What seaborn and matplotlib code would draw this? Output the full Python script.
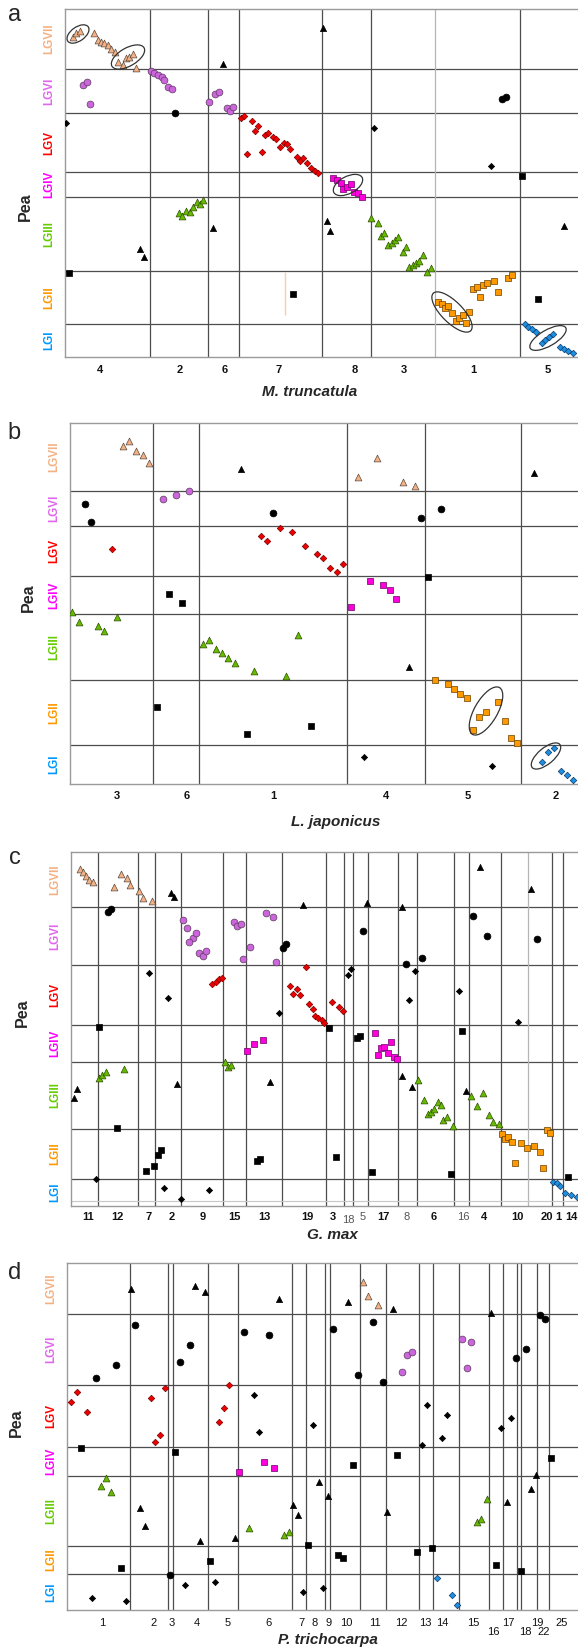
import numpy as np
import pandas as pd
import seaborn as sns
import matplotlib.pyplot as plt
from matplotlib.patches import Ellipse
import matplotlib.transforms as mtrans

sns.set_style('white')
plt.rcParams['font.family'] = ['Liberation Sans', 'DejaVu Sans']

W, H = 578, 1648

# pea linkage groups, top to bottom
lg_names = ['LGVII', 'LGVI', 'LGV', 'LGIV', 'LGIII', 'LGII', 'LGI']
lg_colors = ['#F4B183', '#E066EE', '#FF0000', '#FF00FF', '#66CC00', '#FF9900', '#0099FF']

# ---------------- panel a : M. truncatula ----------------
a_hlines = [69, 113, 172, 197, 271, 324]
a_vlines = [150, 208, 239, 322, 371, 520]
a_vlines_light = [435]
a_ticks = [100, 180, 225, 279, 355, 404, 473, 548]
a_labels = ['4', '2', '6', '7', '8', '3', '1', '5']
a_lg7 = [(73, 37), (76, 33), (80, 31), (94, 33), (98, 40), (101, 42), (104, 43), (108, 45), (111, 49),
         (115, 52), (118, 62), (123, 65), (126, 58), (129, 57), (133, 54), (136, 68)]
a_lg6 = [(83, 85), (87, 82), (90, 104), (151, 71), (154, 73), (158, 75), (162, 77), (164, 80), (168, 87),
         (172, 89), (209, 102), (215, 94), (219, 92), (227, 108), (230, 111), (233, 107)]
a_lg5 = [(241, 118), (244, 116), (252, 121), (255, 131), (258, 126), (265, 135), (268, 133), (273, 137),
         (276, 139), (280, 147), (284, 143), (287, 144), (290, 149), (297, 157), (247, 154), (262, 152),
         (300, 161), (303, 158), (307, 163), (311, 168), (315, 171), (318, 173)]
a_lg4 = [(333, 178), (337, 180), (341, 183), (343, 189), (347, 187), (351, 184), (354, 192), (358, 193), (362, 197)]
a_lg3 = [(179, 213), (182, 216), (186, 211), (190, 212), (193, 207), (197, 202), (200, 204), (203, 200),
         (371, 218), (378, 223), (381, 236), (384, 233), (388, 245), (392, 243), (395, 240), (398, 237),
         (403, 252), (406, 247), (409, 267), (413, 265), (416, 263), (419, 261), (423, 255), (427, 272), (431, 268)]
a_lg2 = [(438, 302), (442, 304), (445, 308), (448, 306), (452, 313), (456, 321), (459, 318), (463, 315),
         (466, 323), (469, 312), (473, 289), (477, 287), (480, 297), (483, 285), (487, 283), (494, 281),
         (498, 292), (508, 278), (512, 275)]
a_lg1 = [(525, 324), (528, 327), (532, 329), (536, 332), (542, 343), (545, 340), (549, 337), (553, 334),
         (560, 347), (564, 349), (568, 351), (573, 353)]
a_tri = [(223, 64), (140, 249), (144, 257), (213, 228), (323, 28), (327, 221), (330, 231), (564, 226)]
a_circ = [(175, 113), (502, 99), (506, 97)]
a_dia = [(66, 123), (374, 128), (491, 166)]
a_sq = [(69, 273), (293, 294), (522, 176), (538, 299)]
# rings: centre x, centre y, long axis, short axis, visible tilt
a_rings = [(78, 34, 25, 14, 35), (128, 57, 37, 18, 30), (348, 185, 32, 17, 28),
           (452, 312, 53, 21, -45), (548, 338, 41, 16, 30)]

# ---------------- panel b : L. japonicus ----------------
b_hlines = [491, 526, 576, 614, 680, 745]
b_vlines = [153, 199, 347, 425, 521]
b_ticks = [117, 187, 273, 386, 468, 556]
b_labels = ['3', '6', '1', '4', '5', '2']
b_lg7 = [(123, 446), (129, 441), (136, 451), (143, 455), (149, 463), (358, 477), (377, 458), (403, 482), (415, 486)]
b_lg6 = [(163, 499), (176, 495), (189, 491)]
b_lg5 = [(112, 549), (261, 536), (267, 541), (280, 528), (292, 532), (305, 546), (317, 554), (323, 558),
         (330, 568), (337, 572), (343, 564)]
b_lg4 = [(351, 607), (370, 581), (383, 585), (390, 590), (396, 599)]
b_lg3 = [(72, 612), (79, 622), (98, 626), (104, 631), (117, 617), (203, 644), (209, 640), (216, 649),
         (222, 653), (228, 658), (235, 663), (254, 671), (286, 676), (298, 635)]
b_lg2 = [(435, 680), (448, 684), (454, 689), (460, 694), (467, 698), (473, 730), (479, 717), (486, 712),
         (498, 702), (505, 721), (511, 738), (517, 743)]
b_lg1 = [(542, 762), (548, 752), (554, 748), (561, 771), (567, 775), (573, 780)]
b_tri = [(241, 469), (534, 473), (409, 667)]
b_circ = [(85, 504), (91, 522), (273, 513), (421, 518), (441, 509)]
b_dia = [(364, 757), (492, 766)]
b_sq = [(169, 594), (182, 603), (428, 577), (157, 707), (247, 734), (311, 726)]
b_rings = [(486, 711, 54, 23, 60), (546, 756, 36, 16, 40)]

# ---------------- panel c : G. max ----------------
c_hlines = [907, 965, 1025, 1062, 1129, 1179]
c_vlines = [98, 138, 155, 181, 223, 246, 282, 326, 344, 353, 368, 398, 417, 454, 469, 501, 552, 563]
c_vlines_light = [528]
c_ticks = [88, 117, 149, 172, 203, 234, 264, 307, 333, 348, 363, 383, 407, 434, 463, 484, 517, 547, 558, 571]
c_labels = ['11', '12', '7', '2', '9', '15', '13', '19', '3', '18', '5', '17', '8', '6', '16', '4', '10', '20', '1', '14']
c_thin = ['18', '5', '8', '16']
c_lg7 = [(80, 869), (83, 872), (86, 876), (89, 880), (93, 882), (114, 887), (121, 874), (127, 878),
         (130, 885), (139, 891), (143, 898), (152, 901)]
c_lg6 = [(183, 920), (187, 928), (193, 938), (196, 933), (189, 942), (199, 953), (203, 956), (206, 951),
         (234, 922), (237, 926), (241, 924), (250, 947), (243, 959), (266, 913), (273, 917), (276, 962)]
c_lg5 = [(212, 984), (216, 982), (219, 979), (222, 978), (290, 986), (293, 994), (297, 989), (300, 995),
         (306, 967), (309, 1004), (313, 1009), (315, 1016), (318, 1018), (322, 1020), (324, 1023),
         (332, 1002), (339, 1007), (343, 1011)]
c_lg4 = [(247, 1051), (254, 1044), (263, 1040), (375, 1033), (378, 1055), (381, 1048), (384, 1047),
         (388, 1053), (391, 1042), (394, 1057), (397, 1059)]
c_lg3 = [(99, 1078), (102, 1075), (106, 1072), (124, 1069), (225, 1062), (228, 1067), (231, 1065),
         (418, 1080), (424, 1100), (428, 1114), (431, 1112), (434, 1109), (438, 1102), (441, 1105),
         (443, 1120), (447, 1117), (453, 1126), (471, 1096), (477, 1106), (483, 1093), (489, 1115),
         (493, 1122), (499, 1124)]
c_lg2 = [(502, 1134), (505, 1139), (508, 1137), (512, 1142), (515, 1163), (521, 1143), (527, 1148),
         (534, 1146), (540, 1152), (543, 1168), (547, 1130), (550, 1133)]
c_lg1 = [(553, 1182), (557, 1183), (560, 1186), (565, 1193), (571, 1195), (577, 1197)]
c_tri = [(171, 893), (174, 897), (74, 1098), (77, 1089), (177, 1084), (270, 1082), (303, 905), (367, 903),
         (402, 907), (480, 867), (531, 889), (402, 1076), (412, 1087), (466, 1091)]
c_circ = [(108, 912), (111, 909), (283, 948), (286, 944), (363, 931), (473, 916), (487, 936), (537, 939),
          (406, 964), (422, 958)]
c_dia = [(149, 973), (168, 998), (279, 1013), (348, 975), (351, 969), (409, 1000), (415, 971), (459, 991),
         (518, 1022), (96, 1179), (164, 1188), (181, 1199), (209, 1190)]
c_sq = [(99, 1027), (117, 1128), (146, 1171), (154, 1166), (158, 1155), (161, 1150), (257, 1161), (260, 1159),
        (329, 1028), (357, 1038), (360, 1036), (462, 1031), (336, 1157), (372, 1172), (451, 1174), (568, 1177)]

# ---------------- panel d : P. trichocarpa ----------------
d_hlines = [1314, 1385, 1447, 1476, 1546, 1574]
d_vlines = [130, 168, 173, 208, 238, 292, 306, 325, 330, 360, 386, 419, 433, 459, 489, 503, 517, 521, 537, 549]
d_ticks = [102, 154, 172, 197, 228, 269, 301, 315, 329, 346, 375, 401, 425, 442, 473, 508, 537, 562]
d_labels = ['1', '2', '3', '4', '5', '6', '7', '8', '9', '10', '11', '12', '13', '14', '15', '17', '19', '25']
d_ticks_low = [493, 525, 544]
d_labels_low = ['16', '18', '22']
d_lg7 = [(363, 1282), (368, 1296), (378, 1305)]
d_lg6 = [(402, 1372), (407, 1355), (412, 1352), (462, 1339), (471, 1342), (467, 1368)]
d_lg5 = [(71, 1402), (77, 1392), (87, 1412), (151, 1398), (165, 1388), (155, 1442), (160, 1435),
         (219, 1422), (224, 1408), (229, 1385)]
d_lg4 = [(239, 1472), (264, 1462), (274, 1468)]
d_lg3 = [(101, 1486), (106, 1478), (111, 1492), (249, 1528), (284, 1535), (289, 1532), (477, 1522),
         (481, 1519), (487, 1499)]
d_lg2 = []
d_lg1 = [(437, 1578), (452, 1595), (457, 1605)]
d_tri = [(131, 1289), (195, 1286), (205, 1292), (279, 1299), (348, 1302), (393, 1309), (491, 1313),
         (140, 1508), (145, 1526), (200, 1541), (235, 1538), (293, 1505), (298, 1515), (319, 1482),
         (328, 1496), (387, 1512), (507, 1502), (531, 1489), (536, 1475)]
d_circ = [(135, 1325), (116, 1365), (96, 1378), (180, 1362), (190, 1345), (244, 1332), (269, 1335),
          (333, 1329), (373, 1322), (358, 1375), (383, 1382), (540, 1315), (545, 1319), (516, 1358),
          (526, 1349), (170, 1575)]
d_dia = [(254, 1395), (259, 1432), (92, 1598), (126, 1601), (185, 1585), (215, 1582), (313, 1425),
         (427, 1405), (447, 1415), (442, 1438), (422, 1445), (501, 1428), (511, 1418), (303, 1592), (323, 1588)]
d_sq = [(81, 1448), (175, 1452), (121, 1568), (210, 1561), (353, 1465), (397, 1455), (551, 1458),
        (308, 1545), (338, 1555), (343, 1558), (417, 1552), (432, 1548), (496, 1565), (521, 1571)]

# marker look per kind: marker, face, edge, size
styles = {
    'lg7': ('^', '#F4B183', '#5a4a40', 24),
    'lg6': ('o', '#CC66DD', '#5a3a5a', 24),
    'lg5': ('D', '#EE0000', '#7a0000', 11),
    'lg4': ('s', '#FF00DD', '#6a006a', 20),
    'lg3': ('^', '#66BB00', '#2f4f00', 24),
    'lg2': ('s', '#FF9900', '#6a4000', 20),
    'lg1': ('D', '#1C8FE0', '#0a3a6a', 11),
    'tri': ('^', 'black', 'black', 20),
    'circ': ('o', 'black', 'black', 24),
    'dia': ('D', 'black', 'black', 10),
    'sq': ('s', 'black', 'black', 18),
}


def fig_xy(px, py):
    return px / W, 1 - py / H


fig = plt.figure(figsize=(W / 100, H / 100), dpi=100)

panels = [
    dict(L=65, T=9, B=357, letter='a', lx=15, ly=15, pea=(25, 207), xl='M. truncatula', xlpos=(310, 392),
         hl=a_hlines, vl=a_vlines, vll=a_vlines_light, ticks=a_ticks, labels=a_labels, thin=[], tk_off=13,
         bold_ticks=True,
         pts=dict(lg7=a_lg7, lg6=a_lg6, lg5=a_lg5, lg4=a_lg4, lg3=a_lg3, lg2=a_lg2, lg1=a_lg1,
                  tri=a_tri, circ=a_circ, dia=a_dia, sq=a_sq), rings=a_rings),
    dict(L=70, T=423, B=784, letter='b', lx=14, ly=433, pea=(28, 598), xl='L. japonicus', xlpos=(336, 822),
         hl=b_hlines, vl=b_vlines, vll=[], ticks=b_ticks, labels=b_labels, thin=[], tk_off=12,
         bold_ticks=True,
         pts=dict(lg7=b_lg7, lg6=b_lg6, lg5=b_lg5, lg4=b_lg4, lg3=b_lg3, lg2=b_lg2, lg1=b_lg1,
                  tri=b_tri, circ=b_circ, dia=b_dia, sq=b_sq), rings=b_rings),
    dict(L=71, T=852, B=1206, letter='c', lx=15, ly=858, pea=(22, 1013), xl='G. max', xlpos=(332, 1235),
         hl=c_hlines, vl=c_vlines, vll=c_vlines_light, ticks=c_ticks, labels=c_labels, thin=c_thin, tk_off=11,
         bold_ticks=True,
         pts=dict(lg7=c_lg7, lg6=c_lg6, lg5=c_lg5, lg4=c_lg4, lg3=c_lg3, lg2=c_lg2, lg1=c_lg1,
                  tri=c_tri, circ=c_circ, dia=c_dia, sq=c_sq), rings=[]),
    dict(L=67, T=1263, B=1610, letter='d', lx=15, ly=1273, pea=(16, 1423), xl='P. trichocarpa', xlpos=(328, 1640),
         hl=d_hlines, vl=d_vlines, vll=[], ticks=d_ticks, labels=d_labels, thin=[], tk_off=13,
         bold_ticks=False,
         pts=dict(lg7=d_lg7, lg6=d_lg6, lg5=d_lg5, lg4=d_lg4, lg3=d_lg3, lg2=d_lg2, lg1=d_lg1,
                  tri=d_tri, circ=d_circ, dia=d_dia, sq=d_sq), rings=[]),
]

R = 578
for p in panels:
    L, T, B = p['L'], p['T'], p['B']
    ax = fig.add_axes([L / W, 1 - B / H, (R - L) / W, (B - T) / H])
    ax.set_xlim(L, R)
    ax.set_ylim(B, T)
    for sp in ['left', 'top', 'bottom']:
        ax.spines[sp].set_color('#9a9a9a')
        ax.spines[sp].set_linewidth(1.0)
    ax.spines['right'].set_visible(False)
    ax.set_xticks([])
    ax.set_yticks([])

    for y in p['hl']:
        ax.axhline(y, color='#4d4d4d', lw=0.9, zorder=1)
    for x in p['vl']:
        ax.axvline(x, color='#4d4d4d', lw=0.9, zorder=1)
    for x in p['vll']:
        ax.axvline(x, color='#b5b5b5', lw=0.9, zorder=1)
    if p['letter'] == 'a':
        ax.vlines(285, 272, 315, color='#F5CFA8', lw=1.0, zorder=1)
    if p['letter'] == 'c':
        ax.axhline(1201, color='#c8c8c8', lw=0.8, zorder=1)

    for kind, pts in p['pts'].items():
        if not pts:
            continue
        df = pd.DataFrame(pts, columns=['x', 'y'])
        m, fc, ec, s = styles[kind]
        sns.scatterplot(data=df, x='x', y='y', ax=ax, marker=m, color=fc, edgecolor=ec,
                        s=s, linewidth=0.5, zorder=3, legend=False)
    ax.set_xlabel('')
    ax.set_ylabel('')

    for cx, cy, w, h, tilt in p['rings']:
        ax.add_patch(Ellipse((cx, cy), w, h, angle=-tilt, fill=False, edgecolor='#333333', lw=0.9, zorder=4))

    # linkage-group labels centred in their bands
    bounds = [T] + p['hl'] + [B]
    trans = mtrans.blended_transform_factory(ax.transAxes, ax.transData)
    for i, name in enumerate(lg_names):
        yc = (bounds[i] + bounds[i + 1]) / 2
        ax.text(-16 / (R - L), yc, name, transform=trans, rotation=90, ha='center', va='center',
                color=lg_colors[i], fontsize=8.5, fontweight='bold')

    # chromosome labels under the plot
    ttrans = mtrans.blended_transform_factory(ax.transData, ax.transAxes)
    for x, lab in zip(p['ticks'], p['labels']):
        thin = lab in p['thin']
        weight = 'bold' if (p['bold_ticks'] and not thin) else 'normal'
        col = '#555555' if thin else '#111111'
        off = p['tk_off'] + (3 if lab == '18' and thin else 0)
        ax.annotate(lab, xy=(x, 0), xycoords=ttrans, xytext=(0, -off * 0.72), textcoords='offset points',
                    ha='center', va='center', fontsize=8, fontweight=weight, color=col)
    if p['letter'] == 'd':
        for x, lab in zip(d_ticks_low, d_labels_low):
            ax.annotate(lab, xy=(x, 0), xycoords=ttrans, xytext=(0, -22 * 0.72), textcoords='offset points',
                        ha='center', va='center', fontsize=8, color='#111111')

    fx, fy = fig_xy(*p['xlpos'])
    fig.text(fx, fy, p['xl'], ha='center', va='center', fontsize=11, fontweight='bold', style='italic')
    fx, fy = fig_xy(*p['pea'])
    fig.text(fx, fy, 'Pea', ha='center', va='center', rotation=90, fontsize=11.5, fontweight='bold')
    fx, fy = fig_xy(p['lx'], p['ly'])
    fig.text(fx, fy, p['letter'], ha='center', va='center', fontsize=17)

fig.savefig('out.png', dpi=100, facecolor='white')
